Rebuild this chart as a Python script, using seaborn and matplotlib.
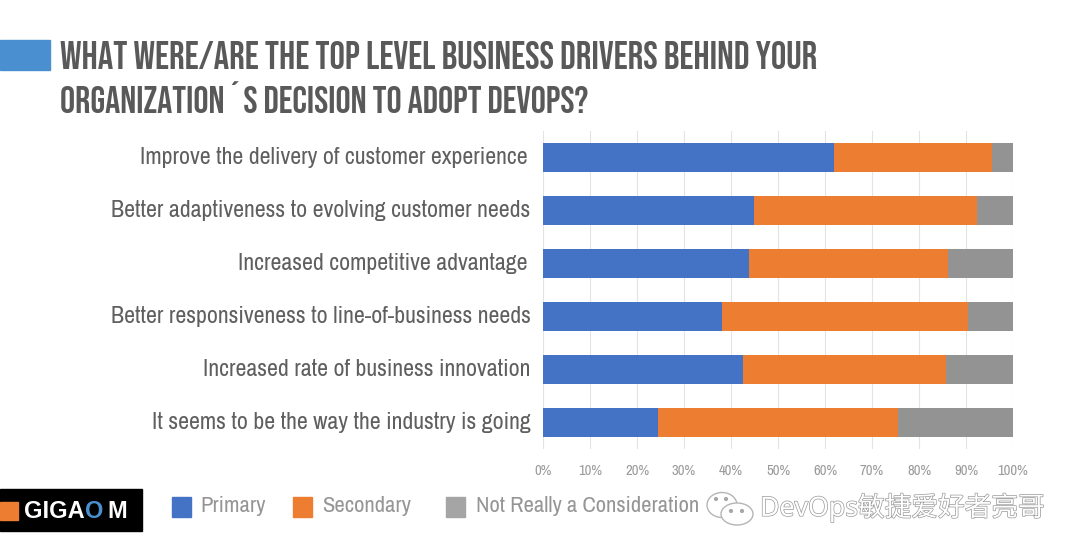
import matplotlib
matplotlib.use("Agg")
import matplotlib.pyplot as plt
import matplotlib.patheffects as pe
from matplotlib.patches import Rectangle, Ellipse, Circle
from matplotlib.transforms import ScaledTranslation
import pandas as pd
import seaborn as sns

title_lines = ["WHAT WERE/ARE THE TOP LEVEL BUSINESS DRIVERS BEHIND YOUR",
               "ORGANIZATION\u00b4S DECISION TO ADOPT DEVOPS?"]
drivers = ["Improve the delivery of customer experience",
           "Better adaptiveness to evolving customer needs",
           "Increased competitive advantage",
           "Better responsiveness to line-of-business needs",
           "Increased rate of business innovation",
           "It seems to be the way the industry is going"]
primary = [62, 44.8, 43.8, 38, 42.6, 24.5]
secondary = [33.5, 47.6, 42.3, 52.4, 43.1, 51]
not_really = [4.5, 7.6, 13.9, 9.6, 14.3, 24.5]
series_names = ["Primary", "Secondary", "Not Really a Consideration"]
colors = ["#4472C4", "#ED7D31", "#939393"]
legend_colors = ["#4472C4", "#ED7D31", "#A5A5A5"]
xticks = list(range(0, 101, 10))

W, H = 1080, 558
narrow = ["Archivo Narrow", "Barlow Condensed", "Liberation Sans"]
heading = ["Bebas Neue", "Oswald", "Barlow Condensed", "Liberation Sans"]

sns.set_theme(style="white")
plt.rcParams["font.family"] = narrow

fig = plt.figure(figsize=(W / 100, H / 100), dpi=100, facecolor="white")


def fx(px):
    return px / W


def fy(px):
    return 1 - px / H


ax = fig.add_axes([fx(543), fy(449), 470 / W, 318 / H])

df = pd.DataFrame({"driver": drivers, "p": primary, "s": secondary, "n": not_really})
df["p_s"] = df["p"] + df["s"]
df["total"] = df["p_s"] + df["n"]

# stacked look: longest bar first, shorter ones painted over it
for col, c in [("total", colors[2]), ("p_s", colors[1]), ("p", colors[0])]:
    sns.barplot(data=df, y="driver", x=col, color=c, saturation=1, width=0.55,
                ax=ax, zorder=3, linewidth=0)

ax.set_xlim(0, 100)
ax.set_xlabel("")
ax.set_ylabel("")
ax.set_xticks(xticks)
ax.set_xticklabels([f"{t}%" for t in xticks], fontsize=10.5, color="#9a9a9a")
ax.tick_params(axis="x", length=0, pad=11)
ax.tick_params(axis="y", length=0, pad=9)
ax.set_yticks(range(len(drivers)))
ax.set_yticklabels(drivers, fontsize=17.2, color="#5f5f5f")
ax.grid(axis="x", color="#e3e3e3", linewidth=0.8, zorder=0)
ax.set_axisbelow(True)
for s in ax.spines.values():
    s.set_visible(False)

# labels sit a little above the bar centres, rows 0 and 2 end a bit earlier
for i, lab in enumerate(ax.get_yticklabels()):
    dx = -3 if i in (0, 2) else 0
    lab.set_transform(lab.get_transform() + ScaledTranslation(dx / 100, 2 / 100, fig.dpi_scale_trans))

# header
fig.add_artist(Rectangle((0, fy(70)), fx(50), 30 / H, color="#4A90D0", transform=fig.transFigure))
for line, y, size in zip(title_lines, [55, 97], [27.85, 27.2]):
    fig.text(fx(60), fy(y), line, fontsize=size, color="#595959",
             va="center", ha="left", family=heading)

# legend row
for x, tx, name, c in zip([172, 293, 446], [200, 322, 476], series_names, legend_colors):
    fig.add_artist(Rectangle((fx(x), fy(517)), 19 / W, 20 / H, color=c, transform=fig.transFigure))
    fig.text(fx(tx), fy(506), name, fontsize=16.3, color="#959595", va="center", ha="left")

# logo
fig.add_artist(Rectangle((0, fy(531)), fx(142), 42 / H, color="black", transform=fig.transFigure))
fig.add_artist(Rectangle((0, fy(520)), fx(18), 18 / H, color="#ED7D31", transform=fig.transFigure))
for x, letters, c in [(24, "GIGA", "white"), (85, "O", "#4A90D0"), (107, "M", "white")]:
    fig.text(fx(x), fy(511), letters, fontsize=17, fontweight="bold", color=c,
             family="Liberation Sans", va="center", ha="left")

# watermark
overlay = fig.add_axes([0, 0, 1, 1], facecolor="none")
overlay.set_xlim(0, W)
overlay.set_ylim(H, 0)
overlay.axis("off")
overlay.add_patch(Ellipse((722, 505), 30, 25, fc="white", ec="#b5b5b5", lw=1))
overlay.add_patch(Ellipse((737, 514), 32, 22, fc="white", ec="#b5b5b5", lw=1))
for cx, cy in [(716, 499), (726, 499), (731, 511), (742, 511)]:
    overlay.add_patch(Circle((cx, cy), 1.4, color="#a8a8a8"))
overlay.text(760, 508, "DevOps敏捷爱好者亮哥", fontsize=19.2, color="white", va="center", ha="left",
             family=["Noto Sans", "Noto Sans CJK SC"],
             path_effects=[pe.withStroke(linewidth=1, foreground="#999999")])

fig.savefig("out.png", dpi=100, facecolor="white")
